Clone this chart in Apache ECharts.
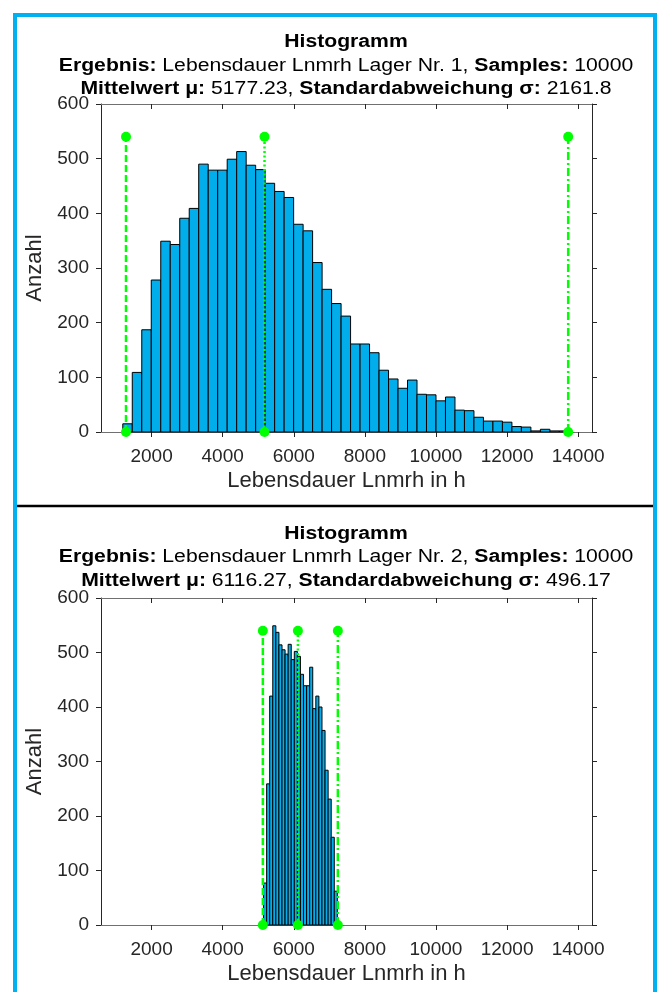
<!DOCTYPE html>
<html>
<head>
<meta charset="utf-8">
<script src="https://cdn.jsdelivr.net/npm/echarts@6/dist/echarts.min.js"></script>
<style>
  html, body { margin: 0; padding: 0; background: #fff; }
  #chart { width: 659px; height: 992px; }
</style>
</head>
<body>
<div id="chart"></div>
<script>
// Histogramm 1 (Lager Nr. 1)
const binStart1 = 1190;
const binWidth1 = 267;
const counts1 = [15, 109, 187, 278, 349, 343, 391, 409, 490, 479, 479, 499, 513, 488, 480, 455,
  440, 429, 380, 368, 310, 261, 235, 212, 161, 161, 145, 113, 97, 80, 95, 69, 68, 57, 64, 40,
  39, 27, 20, 20, 18, 10, 9, 2, 5, 2, 2];
const markLines1 = [1280, 5177.23, 13720]; // links, Mittelwert, rechts

// Histogramm 2 (Lager Nr. 2)
const binStart2 = 5150;
const binWidth2 = 86.5;
const counts2 = [77, 259, 420, 549, 537, 514, 505, 497, 515, 487, 502, 493, 460, 439, 439, 473,
  397, 420, 400, 357, 284, 231, 161, 62];
const markLines2 = [5130, 6116.27, 7240];

const markTop = 540;
const xTicks = [2000, 4000, 6000, 8000, 10000, 12000, 14000];
const xMin = 577, xMax = 14390;

const titles1 = [
  '{b|Histogramm}',
  '{b|Ergebnis:} Lebensdauer Lnmrh Lager Nr. 1, {b|Samples:} 10000',
  '{b|Mittelwert μ:} 5177.23, {b|Standardabweichung σ:} 2161.8'
];
const titles2 = [
  '{b|Histogramm}',
  '{b|Ergebnis:} Lebensdauer Lnmrh Lager Nr. 2, {b|Samples:} 10000',
  '{b|Mittelwert μ:} 6116.27, {b|Standardabweichung σ:} 496.17'
];

const FONT = 'Liberation Sans, Arial, sans-serif';
const TXT = '#262626';
const BAR = '#02ADEC';
const GREEN = '#00FF00';
const dashTypes = [[7, 3], [2, 2.5], [8, 3, 2, 3]];

function toBins(start, width, counts) {
  return counts.map((c, i) => [start + i * width, start + (i + 1) * width, c]);
}

function renderBar(params, api) {
  const a = api.coord([api.value(0), api.value(2)]);
  const b = api.coord([api.value(1), 0]);
  return {
    type: 'rect',
    shape: { x: a[0], y: a[1], width: b[0] - a[0], height: b[1] - a[1] },
    style: { fill: BAR, stroke: '#000', lineWidth: 1 }
  };
}

const grids = [
  { left: 101, width: 491, top: 104, height: 328 },
  { left: 101, width: 491, top: 598, height: 327 }
];

const xAxes = [];
const yAxes = [];
grids.forEach((g, i) => {
  xAxes.push({
    gridIndex: i, type: 'value', min: xMin, max: xMax, position: 'bottom',
    axisLine: { show: true, onZero: false, lineStyle: { color: '#707070', width: 1 } },
    axisTick: { show: true, customValues: xTicks, length: 5, lineStyle: { color: TXT } },
    axisLabel: { customValues: xTicks, margin: 15, fontSize: 19, color: TXT, fontFamily: FONT,
      formatter: v => String(v) },
    splitLine: { show: false },
    name: 'Lebensdauer Lnmrh in h', nameLocation: 'middle', nameGap: 38,
    nameTextStyle: { fontSize: 22, color: TXT, fontFamily: FONT }
  });
  xAxes.push({
    gridIndex: i, type: 'value', min: xMin, max: xMax, position: 'top',
    axisLine: { show: true, onZero: false, lineStyle: { color: '#707070', width: 1 } },
    axisTick: { show: true, customValues: xTicks, length: 5, inside: true, lineStyle: { color: TXT } },
    axisLabel: { show: false },
    splitLine: { show: false }
  });
  yAxes.push({
    gridIndex: i, type: 'value', min: 0, max: 600, interval: 100, position: 'left',
    axisLine: { show: true, lineStyle: { color: TXT, width: 1 } },
    axisTick: { show: true, length: 5, lineStyle: { color: TXT } },
    axisLabel: { margin: 12, fontSize: 19, color: TXT, fontFamily: FONT },
    splitLine: { show: false },
    name: 'Anzahl', nameLocation: 'middle', nameRotate: 90, nameGap: 54,
    nameTextStyle: { fontSize: 22, color: TXT, fontFamily: FONT }
  });
  yAxes.push({
    gridIndex: i, type: 'value', min: 0, max: 600, interval: 100, position: 'right',
    axisLine: { show: true, lineStyle: { color: TXT, width: 1 } },
    axisTick: { show: true, length: 5, lineStyle: { color: TXT } },
    axisLabel: { show: false },
    splitLine: { show: false }
  });
});

const series = [];
[[binStart1, binWidth1, counts1, markLines1], [binStart2, binWidth2, counts2, markLines2]]
  .forEach(([start, width, counts, marks], i) => {
    series.push({
      type: 'custom', xAxisIndex: i * 2, yAxisIndex: i * 2,
      data: toBins(start, width, counts),
      encode: { x: [0, 1], y: 2 },
      renderItem: renderBar, z: 2
    });
    marks.forEach((v, k) => {
      series.push({
        type: 'line', xAxisIndex: i * 2, yAxisIndex: i * 2,
        data: [[v, 0], [v, markTop]],
        symbol: 'circle', symbolSize: 10, showSymbol: true,
        itemStyle: { color: GREEN },
        lineStyle: { color: GREEN, width: 2.5, type: dashTypes[k] },
        z: 5
      });
    });
  });

function titleTexts(lines, baseY) {
  return lines.map((t, k) => ({
    type: 'text', x: 346, y: baseY + k * 23.5, scaleX: 1.21, z: 10,
    style: {
      text: t, x: 0, y: 0, align: 'center', verticalAlign: 'middle',
      fontSize: 17.5, fontFamily: FONT, fill: '#000',
      rich: { b: { fontWeight: 'bold', fontSize: 17.5, fontFamily: FONT, fill: '#000' } }
    }
  }));
}

const chart = echarts.init(document.getElementById('chart'), null, { renderer: 'canvas' });
chart.setOption({
  animation: false,
  backgroundColor: '#fff',
  grid: grids,
  xAxis: xAxes,
  yAxis: yAxes,
  series: series,
  graphic: [
    { type: 'rect', z: 20, shape: { x: 15, y: 15, width: 640, height: 1000 },
      style: { fill: 'none', stroke: '#00B0F0', lineWidth: 4 } },
    { type: 'line', z: 20, shape: { x1: 17, y1: 506, x2: 653, y2: 506 },
      style: { stroke: '#000', lineWidth: 2.5 } },
    ...titleTexts(titles1, 42.5),
    ...titleTexts(titles2, 534)
  ]
});
</script>
</body>
</html>
